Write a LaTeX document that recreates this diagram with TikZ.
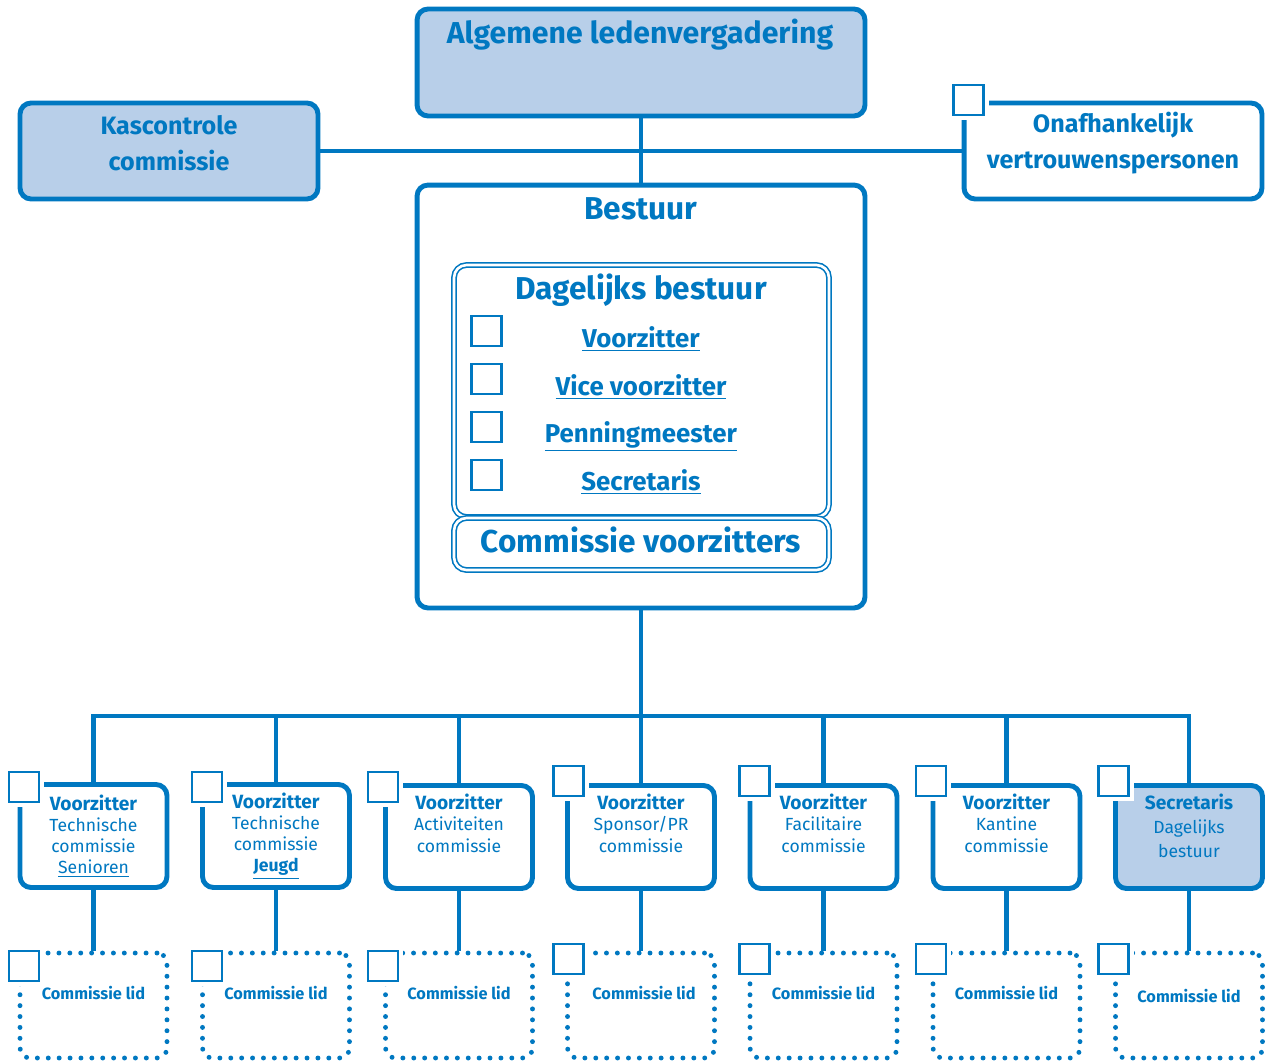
\documentclass[tikz,border=0pt]{standalone}
\usepackage{fontspec}
\setmainfont{Fira Sans}
\definecolor{orgblue}{HTML}{0078C1}
\definecolor{orgfill}{HTML}{B8CFE9}
\newcommand{\vz}[1]{\textbf{\fontsize{10.9}{12.1}\selectfont #1}}

\begin{document}
\begin{tikzpicture}[x=0.02cm, y=-0.02cm,
    orgbox/.style={draw=orgblue, line width=2.8pt, rounded corners=0.22cm, fill=white, text=orgblue, align=center, inner sep=0pt},
    topbox/.style={orgbox, fill=orgfill, minimum width=5.96cm, minimum height=1.92cm},
    toptxt/.style={text=orgblue, align=center, inner sep=0pt, font=\bfseries\fontsize{14.3}{20.8}\selectfont},
    comm/.style={orgbox, minimum width=2.94cm, minimum height=2.06cm, font=\fontsize{10}{12.1}\selectfont},
    stippel/.style={draw=orgblue, line width=2.8pt, dash pattern=on 0pt off 6.2pt, line cap=round, rounded corners=0.2cm, minimum width=2.94cm, minimum height=2.1cm, inner sep=0pt},
    dubbel/.style={draw=orgblue, double=white, double distance=1.5pt, line width=0.9pt, rounded corners=0.25cm, minimum width=7.5cm},
    vakje/.style={draw=orgblue, line width=1.5pt, fill=white, minimum size=0.6cm, inner sep=0pt, preaction={draw=white, line width=6pt}},
    lijn/.style={draw=orgblue, line width=2.8pt},
    kop/.style={text=orgblue, font=\bfseries\fontsize{18}{20}\selectfont, inner sep=0pt, anchor=base},
    functie/.style={text=orgblue, font=\bfseries\fontsize{14.7}{16}\selectfont, inner sep=0pt, anchor=base},
    lid/.style={text=orgblue, font=\bfseries\fontsize{9.3}{11}\selectfont, inner sep=0pt, anchor=base}]
  \useasboundingbox (0,0) rectangle (1270,1062);

  % ledenvergadering en commissies ernaast
  \node (alv) at (641,62.5) [orgbox, fill=orgfill, minimum width=8.96cm, minimum height=2.14cm] {};
  \node (alvtxt) at (640,43) [kop, font=\bfseries\fontsize{17.2}{20}\selectfont] {Algemene ledenvergadering};
  \node (kas) at (169,151) [topbox] {};
  \node (kastxt) at (169,143) [toptxt] {Kascontrole\\commissie};
  \node (vp) at (1113,151) [topbox, fill=white] {};
  \node (vptxt) at (1113,143) [toptxt] {Onafhankelijk\\vertrouwenspersonen};

  % bestuur
  \node (best) at (641,396.5) [orgbox, minimum width=8.96cm, minimum height=8.46cm] {};
  \node (besttxt) at (641,219) [kop] {Bestuur};
  \node (db) at (641.5,391) [dubbel, minimum height=5.04cm] {};
  \node (dbtxt) at (641,299) [kop] {Dagelijks bestuur};
  \node (vz) at (641,347) [functie] {\underline{Voorzitter}};
  \node (vvz) at (641,395) [functie] {\underline{Vice voorzitter}};
  \node (pm) at (641,442) [functie] {\underline{Penningmeester}};
  \node (sec) at (641,490) [functie] {\underline{Secretaris}};
  \node (cv) at (641.5,544) [dubbel, minimum height=1.04cm] {};
  \node (cvtxt) at (641,552) [kop] {Commissie voorzitters};

  % commissies
  \node (c1) at (93.5,836) [comm] {\vz{Voorzitter}\\Technische\\commissie\\\underline{Senioren}};
  \node (c2) at (276,836) [comm] {\vz{Voorzitter}\\Technische\\commissie\\\underline{\textbf{Jeugd}}};
  \node (c3) at (459,837) [comm] {\vz{Voorzitter}\\Activiteiten\\commissie\\\strut};
  \node (c4) at (641,837) [comm] {\vz{Voorzitter}\\Sponsor/PR\\commissie\\\strut};
  \node (c5) at (823.5,837) [comm] {\vz{Voorzitter}\\Facilitaire\\commissie\\\strut};
  \node (c6) at (1006.5,837) [comm] {\vz{Voorzitter}\\Kantine\\commissie\\\strut};
  \node (c7) at (1189,837) [comm, fill=orgfill, font=\fontsize{10}{13.6}\selectfont] {\vz{Secretaris}\\Dagelijks\\bestuur\\[-0.6pt]};

  \node (l1) at (93.5,1005.5) [stippel] {};
  \node (l2) at (276,1005.5) [stippel] {};
  \node (l3) at (459,1005.5) [stippel] {};
  \node (l4) at (641,1005.5) [stippel] {};
  \node (l5) at (823.5,1005.5) [stippel] {};
  \node (l6) at (1006.5,1005.5) [stippel] {};
  \node (l7) at (1189,1005.5) [stippel] {};
  \node (t1) at (93.5,999) [lid] {Commissie lid};
  \node (t2) at (276,999) [lid] {Commissie lid};
  \node (t3) at (459,999) [lid] {Commissie lid};
  \node (t4) at (644,999) [lid] {Commissie lid};
  \node (t5) at (823.5,999) [lid] {Commissie lid};
  \node (t6) at (1006.5,999) [lid] {Commissie lid};
  \node (t7) at (1189,1002) [lid] {Commissie lid};

  % verbindingen
  \coordinate (bus) at (641,716);
  \draw [lijn] (alv) -- (best);
  \draw [lijn] (kas) -- (vp);
  \draw [lijn] (best) -- (c4);
  \draw [lijn] (c1) |- (bus) -| (c7);
  \draw [lijn] (c2 |- bus) -- (c2) (c3 |- bus) -- (c3) (c5 |- bus) -- (c5) (c6 |- bus) -- (c6);
  \draw [lijn] (c1) -- (l1) (c2) -- (l2) (c3) -- (l3) (c4) -- (l4) (c5) -- (l5) (c6) -- (l6) (c7) -- (l7);

  % vakjes
  \node (vk0) at (968.5,100) [vakje] {};
  \node (vk1) at (486.5,331) [vakje] {};
  \node (vk2) at (486.5,379) [vakje] {};
  \node (vk3) at (486.5,427) [vakje] {};
  \node (vk4) at (486.5,475) [vakje] {};
  \node (vc1) at (24,787) [vakje] {};
  \node (vc2) at (207,787) [vakje] {};
  \node (vc3) at (383,787) [vakje] {};
  \node (vc4) at (568.5,781) [vakje] {};
  \node (vc5) at (754.5,781) [vakje] {};
  \node (vc6) at (931,781) [vakje] {};
  \node (vc7) at (1113.5,781) [vakje] {};
  \node (vl1) at (24,966) [vakje] {};
  \node (vl2) at (207,966) [vakje] {};
  \node (vl3) at (383,966) [vakje] {};
  \node (vl4) at (568.5,959) [vakje] {};
  \node (vl5) at (754.5,959) [vakje] {};
  \node (vl6) at (931,959) [vakje] {};
  \node (vl7) at (1113.5,959) [vakje] {};
\end{tikzpicture}
\end{document}
